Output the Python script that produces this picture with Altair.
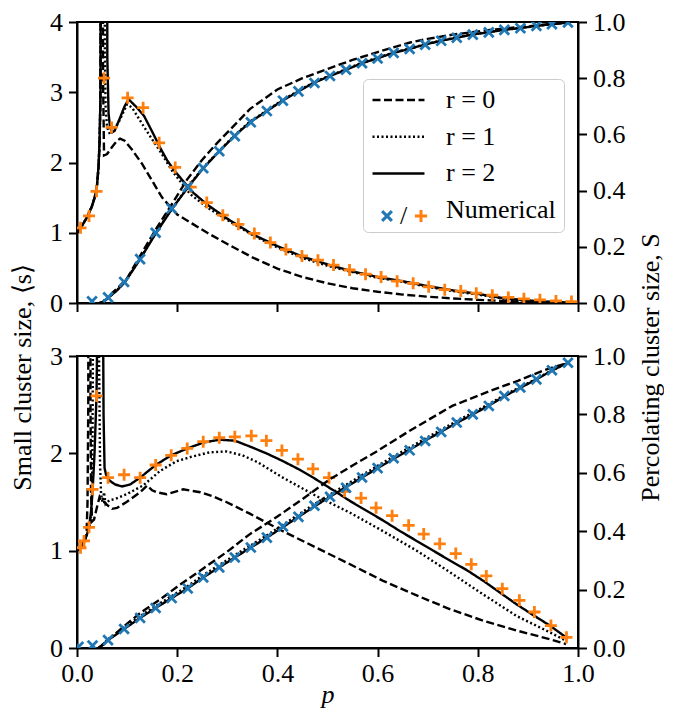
import altair as alt
import pandas as pd

FONT = "Liberation Serif"
FS = 26
BLUE = "#1f77b4"
ORANGE = "#ff7f0e"

# ---------------- top panel: small cluster size <s> (left axis) ----------------
top_r0_s_p = [0.0, 0.01, 0.02, 0.03, 0.036, 0.04, 0.043, 0.045, 0.0465, 0.047, 0.0495, 0.0505, 0.052, 0.054, 0.06, 0.07, 0.08, 0.086, 0.095, 0.11, 0.13, 0.15, 0.17, 0.2, 0.23, 0.26, 0.3, 0.35, 0.4, 0.45, 0.5, 0.55, 0.6, 0.65, 0.7, 0.75, 0.8, 0.85, 0.9, 0.95, 0.98]
top_r0_s = [1.0, 1.1, 1.22, 1.38, 1.52, 1.68, 1.92, 2.25, 2.8, 3.6, 12, 12, 3.2, 2.1, 2.12, 2.22, 2.31, 2.34, 2.31, 2.18, 1.98, 1.74, 1.5, 1.26, 1.13, 1.0, 0.84, 0.65, 0.49, 0.37, 0.28, 0.21, 0.16, 0.12, 0.09, 0.065, 0.045, 0.03, 0.018, 0.008, 0.003]

top_r1_s_p = [0.0, 0.01, 0.02, 0.03, 0.036, 0.04, 0.043, 0.045, 0.047, 0.0478, 0.0545, 0.0555, 0.057, 0.06, 0.066, 0.072, 0.085, 0.1, 0.11, 0.13, 0.15, 0.166, 0.19, 0.226, 0.26, 0.3, 0.35, 0.4, 0.45, 0.5, 0.55, 0.6, 0.65, 0.7, 0.75, 0.8, 0.85, 0.9, 0.95, 0.98]
top_r1_s = [1.0, 1.1, 1.22, 1.38, 1.52, 1.68, 1.95, 2.3, 3.0, 12, 12, 3.6, 2.8, 2.5, 2.4, 2.44, 2.6, 2.83, 2.78, 2.55, 2.33, 2.16, 1.88, 1.55, 1.36, 1.18, 0.97, 0.79, 0.64, 0.53, 0.44, 0.36, 0.3, 0.23, 0.17, 0.12, 0.065, 0.03, 0.012, 0.005]

top_r2_s_p = [0.0, 0.01, 0.02, 0.03, 0.036, 0.04, 0.043, 0.045, 0.047, 0.0482, 0.0595, 0.0605, 0.063, 0.066, 0.07, 0.075, 0.085, 0.095, 0.103, 0.11, 0.12, 0.134, 0.15, 0.166, 0.18, 0.196, 0.215, 0.232, 0.26, 0.3, 0.35, 0.4, 0.45, 0.5, 0.55, 0.6, 0.65, 0.7, 0.75, 0.8, 0.85, 0.9, 0.95, 0.98]
top_r2_s = [1.0, 1.1, 1.22, 1.38, 1.52, 1.68, 1.95, 2.3, 3.0, 12, 12, 3.5, 2.7, 2.5, 2.43, 2.45, 2.62, 2.8, 2.9, 2.85, 2.78, 2.66, 2.44, 2.21, 2.03, 1.87, 1.71, 1.57, 1.4, 1.2, 0.98, 0.81, 0.66, 0.55, 0.45, 0.37, 0.31, 0.24, 0.18, 0.13, 0.07, 0.035, 0.015, 0.006]

# top panel: percolating cluster size S (right axis)
top_r0_S_p = [0.05, 0.06, 0.07, 0.085, 0.1, 0.13, 0.16, 0.192, 0.22, 0.25, 0.28, 0.31, 0.345, 0.4, 0.45, 0.505, 0.55, 0.6, 0.665, 0.7, 0.75, 0.824, 0.9, 0.98]
top_r0_S = [0.0, 0.015, 0.035, 0.06, 0.088, 0.18, 0.27, 0.359, 0.44, 0.51, 0.57, 0.625, 0.69, 0.76, 0.8, 0.836, 0.865, 0.893, 0.927, 0.94, 0.955, 0.972, 0.985, 0.998]

top_r12_S_p = [0.045, 0.05, 0.06, 0.07, 0.08, 0.096, 0.126, 0.158, 0.19, 0.222, 0.252, 0.284, 0.314, 0.345, 0.379, 0.41, 0.442, 0.472, 0.505, 0.537, 0.568, 0.599, 0.631, 0.663, 0.693, 0.726, 0.758, 0.788, 0.82, 0.852, 0.884, 0.916, 0.947, 0.98]
top_r1_S = [0.0, 0.003, 0.016, 0.031, 0.046, 0.077, 0.158, 0.252, 0.338, 0.415, 0.482, 0.542, 0.596, 0.645, 0.685, 0.722, 0.755, 0.785, 0.81, 0.832, 0.855, 0.872, 0.891, 0.905, 0.92, 0.934, 0.945, 0.956, 0.964, 0.973, 0.979, 0.986, 0.992, 0.998]
top_r2_S = [0.0, 0.003, 0.015, 0.03, 0.045, 0.075, 0.156, 0.25, 0.336, 0.413, 0.48, 0.54, 0.594, 0.643, 0.683, 0.72, 0.753, 0.783, 0.808, 0.83, 0.853, 0.87, 0.89, 0.904, 0.919, 0.933, 0.944, 0.955, 0.963, 0.972, 0.978, 0.986, 0.992, 0.998]

# top panel numerical points
top_num_S_p = [0.03, 0.062, 0.094, 0.126, 0.157, 0.189, 0.221, 0.252, 0.284, 0.315, 0.347, 0.379, 0.411, 0.442, 0.474, 0.505, 0.537, 0.569, 0.6, 0.632, 0.664, 0.695, 0.727, 0.758, 0.79, 0.822, 0.853, 0.885, 0.917, 0.948, 0.98]
top_num_S = [0.006, 0.02, 0.075, 0.156, 0.25, 0.336, 0.413, 0.48, 0.54, 0.594, 0.643, 0.683, 0.72, 0.753, 0.783, 0.808, 0.83, 0.853, 0.87, 0.89, 0.904, 0.919, 0.933, 0.944, 0.955, 0.963, 0.972, 0.978, 0.986, 0.992, 0.998]
top_num_s_p = [0.007, 0.024, 0.039, 0.054, 0.069, 0.101, 0.132, 0.164, 0.196, 0.227, 0.259, 0.291, 0.322, 0.354, 0.386, 0.417, 0.449, 0.481, 0.512, 0.544, 0.576, 0.607, 0.639, 0.671, 0.702, 0.734, 0.766, 0.797, 0.829, 0.861, 0.892, 0.924, 0.956, 0.987]
top_num_s = [1.07, 1.24, 1.59, 3.2, 2.5, 2.92, 2.78, 2.28, 1.93, 1.65, 1.43, 1.25, 1.12, 0.99, 0.86, 0.76, 0.67, 0.61, 0.54, 0.47, 0.41, 0.37, 0.31, 0.28, 0.23, 0.19, 0.17, 0.14, 0.11, 0.08, 0.06, 0.045, 0.03, 0.02]

# ---------------- bottom panel ----------------
bot_r0_s_p = [0.0, 0.01, 0.016, 0.019, 0.021, 0.0225, 0.0235, 0.026, 0.027, 0.028, 0.03, 0.034, 0.04, 0.045, 0.05, 0.055, 0.06, 0.07, 0.08, 0.099, 0.126, 0.14, 0.15, 0.159, 0.179, 0.212, 0.246, 0.27, 0.298, 0.345, 0.411, 0.478, 0.545, 0.611, 0.678, 0.744, 0.811, 0.877, 0.944, 0.976]
bot_r0_s = [1.0, 1.05, 1.1, 1.16, 1.5, 2.5, 10, 10, 2.5, 1.6, 1.3, 1.32, 1.45, 1.55, 1.5, 1.5, 1.47, 1.43, 1.44, 1.5, 1.6, 1.67, 1.62, 1.6, 1.58, 1.63, 1.6, 1.56, 1.5, 1.38, 1.2, 1.03, 0.86, 0.69, 0.54, 0.4, 0.28, 0.18, 0.09, 0.04]

bot_r1_s_p = [0.0, 0.01, 0.016, 0.02, 0.025, 0.028, 0.03, 0.031, 0.032, 0.033, 0.043, 0.044, 0.046, 0.048, 0.051, 0.054, 0.057, 0.065, 0.076, 0.099, 0.132, 0.166, 0.199, 0.232, 0.265, 0.298, 0.33, 0.36, 0.411, 0.478, 0.545, 0.611, 0.678, 0.744, 0.811, 0.877, 0.944, 0.976]
bot_r1_s = [1.0, 1.05, 1.12, 1.17, 1.24, 1.35, 1.6, 2.2, 3.3, 10, 10, 3.0, 1.9, 1.58, 1.5, 1.6, 1.48, 1.52, 1.53, 1.58, 1.67, 1.82, 1.92, 1.97, 2.01, 2.02, 1.98, 1.91, 1.75, 1.56, 1.39, 1.2, 1.0, 0.78, 0.55, 0.33, 0.16, 0.075]

bot_r2_s_p = [0.0, 0.01, 0.016, 0.02, 0.024, 0.028, 0.031, 0.035, 0.039, 0.041, 0.042, 0.051, 0.052, 0.053, 0.055, 0.058, 0.065, 0.076, 0.09, 0.106, 0.126, 0.157, 0.188, 0.22, 0.252, 0.284, 0.315, 0.345, 0.378, 0.411, 0.445, 0.478, 0.518, 0.545, 0.578, 0.611, 0.645, 0.678, 0.711, 0.744, 0.778, 0.811, 0.844, 0.877, 0.91, 0.944, 0.976]
bot_r2_s = [1.0, 1.05, 1.12, 1.17, 1.24, 1.4, 1.6, 2.0, 2.6, 3.5, 10, 10, 3.4, 2.4, 1.85, 1.78, 1.72, 1.68, 1.66, 1.68, 1.75, 1.88, 1.98, 2.05, 2.11, 2.14, 2.13, 2.07, 2.0, 1.92, 1.83, 1.73, 1.6, 1.51, 1.41, 1.31, 1.2, 1.1, 1.0, 0.9, 0.8, 0.69, 0.57, 0.45, 0.34, 0.23, 0.11]

bot_r0_S_p = [0.043, 0.06, 0.099, 0.13, 0.165, 0.2, 0.25, 0.3, 0.345, 0.4, 0.45, 0.505, 0.55, 0.6, 0.665, 0.7, 0.75, 0.824, 0.88, 0.93, 0.98]
bot_r0_S = [0.0, 0.025, 0.082, 0.125, 0.165, 0.21, 0.27, 0.33, 0.39, 0.45, 0.51, 0.578, 0.625, 0.675, 0.745, 0.78, 0.83, 0.88, 0.915, 0.95, 0.977]

bot_r12_S_p = [0.043, 0.05, 0.062, 0.094, 0.126, 0.157, 0.189, 0.221, 0.252, 0.284, 0.315, 0.347, 0.379, 0.411, 0.442, 0.474, 0.505, 0.537, 0.569, 0.6, 0.632, 0.664, 0.695, 0.727, 0.758, 0.79, 0.822, 0.853, 0.885, 0.917, 0.948, 0.98]
bot_r1_S = [0.0, 0.009, 0.03, 0.07, 0.109, 0.144, 0.178, 0.212, 0.25, 0.284, 0.318, 0.352, 0.386, 0.422, 0.457, 0.493, 0.526, 0.559, 0.592, 0.624, 0.656, 0.687, 0.717, 0.748, 0.777, 0.806, 0.835, 0.866, 0.894, 0.922, 0.951, 0.977]
bot_r2_S = [0.0, 0.008, 0.027, 0.065, 0.103, 0.137, 0.171, 0.204, 0.242, 0.276, 0.31, 0.344, 0.378, 0.414, 0.449, 0.485, 0.518, 0.551, 0.584, 0.616, 0.648, 0.679, 0.71, 0.741, 0.771, 0.8, 0.83, 0.862, 0.891, 0.92, 0.95, 0.977]

bot_num_S_p = [0.003, 0.031, 0.062, 0.094, 0.126, 0.157, 0.189, 0.221, 0.252, 0.284, 0.315, 0.347, 0.379, 0.411, 0.442, 0.474, 0.505, 0.537, 0.569, 0.6, 0.632, 0.664, 0.695, 0.727, 0.758, 0.79, 0.822, 0.853, 0.885, 0.917, 0.948, 0.98]
bot_num_S = [0.004, 0.008, 0.027, 0.065, 0.103, 0.137, 0.171, 0.204, 0.242, 0.276, 0.31, 0.344, 0.378, 0.416, 0.449, 0.487, 0.518, 0.549, 0.584, 0.616, 0.65, 0.677, 0.709, 0.74, 0.772, 0.8, 0.829, 0.863, 0.892, 0.92, 0.951, 0.977]
bot_num_s_p = [0.007, 0.014, 0.024, 0.031, 0.039, 0.062, 0.094, 0.126, 0.157, 0.188, 0.22, 0.252, 0.284, 0.315, 0.348, 0.378, 0.409, 0.441, 0.471, 0.503, 0.534, 0.567, 0.597, 0.629, 0.662, 0.692, 0.724, 0.756, 0.787, 0.817, 0.849, 0.883, 0.913, 0.946, 0.977]
bot_num_s = [1.03, 1.1, 1.24, 1.63, 2.59, 1.75, 1.78, 1.75, 1.88, 1.98, 2.05, 2.12, 2.16, 2.17, 2.18, 2.13, 2.03, 1.94, 1.84, 1.75, 1.61, 1.54, 1.44, 1.36, 1.26, 1.17, 1.07, 0.97, 0.86, 0.74, 0.61, 0.49, 0.37, 0.23, 0.11]

x_ticks = [0.0, 0.2, 0.4, 0.6, 0.8, 1.0]
S_ticks = [0.0, 0.2, 0.4, 0.6, 0.8, 1.0]

R_DOMAIN = ["r = 0", "r = 1", "r = 2", "Numerical"]
R_DASH = [[8, 3.5], [2, 2.5], [1, 0], [0, 1000]]
KIND_DOMAIN = ["S", "s"]
X_PATH = "M-0.8,-0.8L0.8,0.8M-0.8,0.8L0.8,-0.8"
PLUS_PATH = "M-1,0L1,0M0,-1L0,1"


def lines_df(curves):
    rows = []
    for ps, vs, lab in curves:
        assert len(ps) == len(vs), lab
        for p, v in zip(ps, vs):
            rows.append({"p": p, "v": v, "r": lab})
    return pd.DataFrame(rows)


def marks_df(ps, vs, kind):
    assert len(ps) == len(vs)
    return pd.DataFrame({"p": ps, "v": vs, "kind": kind})


def panel(s_curves, S_curves, s_mk, S_mk, smax, height, is_top):
    xkw = dict(values=x_ticks, format=".1f", labelFlush=False)
    if is_top:
        xkw.update(labels=False, title="")
    else:
        xkw.update(title="p", titleFontStyle="italic", titlePadding=-5, labelPadding=4)
    x = alt.X("p:Q", scale=alt.Scale(domain=[0, 1], nice=False, zero=False), axis=alt.Axis(**xkw))

    lkw = dict(orient="left", values=list(range(smax + 1)), format="d")
    rkw = dict(orient="right", values=S_ticks, format=".1f")
    if is_top:
        lkw.update(title="Small cluster size, ⟨s⟩", titleY=355, titleAlign="center",
                   titleAngle=270, titlePadding=14)
        rkw.update(title="Percolating cluster size, S", titleY=345, titleAlign="center",
                   titleAngle=270, titleBaseline="top", titlePadding=12)
    else:
        lkw.update(title="")
        rkw.update(title="")
    yL = alt.Y("v:Q", scale=alt.Scale(domain=[0, smax], nice=False), axis=alt.Axis(**lkw))
    yR = alt.Y("v:Q", scale=alt.Scale(domain=[0, 1], nice=False), axis=alt.Axis(**rkw))

    if is_top:
        leg1 = alt.Legend(orient="none", legendX=286, legendY=57, title=None,
                          symbolType="stroke", symbolSize=2700, symbolStrokeWidth=2.5,
                          symbolStrokeColor="black", clipHeight=26, rowPadding=10.7,
                          padding=8, labelFont=FONT, labelFontSize=FS, labelColor="black",
                          labelOffset=20, fillColor="white", strokeColor="#cccccc",
                          cornerRadius=5, zindex=1)
        leg2 = alt.Legend(orient="none", legendX=297, legendY=181, title=None,
                          direction="horizontal", symbolSize=150, symbolStrokeWidth=3,
                          labelExpr="datum.value == 'S' ? '/' : ''", labelFont=FONT,
                          labelFontSize=FS, labelColor="black", labelOffset=0,
                          columnPadding=-8, padding=0, zindex=2)
    else:
        leg1 = None
        leg2 = None

    def dash():
        return alt.StrokeDash("r:N", scale=alt.Scale(domain=R_DOMAIN, range=R_DASH), legend=leg1)

    def shape():
        return alt.Shape("kind:N", scale=alt.Scale(domain=KIND_DOMAIN, range=[X_PATH, PLUS_PATH]), legend=leg2)

    def color():
        return alt.Color("kind:N", scale=alt.Scale(domain=KIND_DOMAIN, range=[BLUE, ORANGE]), legend=leg2)

    line_props = dict(clip=True, color="black", strokeWidth=2.4)
    pt_props = dict(filled=False, strokeWidth=2.8, size=144, opacity=1, clip=True)

    left = alt.layer(
        alt.Chart(lines_df(s_curves)).mark_line(**line_props).encode(x=x, y=yL, strokeDash=dash()),
        alt.Chart(s_mk).mark_point(**pt_props).encode(x=x, y=yL, shape=shape(), color=color()),
    )
    right = alt.layer(
        alt.Chart(lines_df(S_curves)).mark_line(**line_props).encode(x=x, y=yR, strokeDash=dash()),
        alt.Chart(S_mk).mark_point(**pt_props).encode(x=x, y=yR, shape=shape(), color=color()),
    )
    return alt.layer(left, right).resolve_scale(y="independent").properties(width=501, height=height)


top = panel(
    [(top_r0_s_p, top_r0_s, "r = 0"), (top_r1_s_p, top_r1_s, "r = 1"), (top_r2_s_p, top_r2_s, "r = 2")],
    [(top_r0_S_p, top_r0_S, "r = 0"), (top_r12_S_p, top_r1_S, "r = 1"), (top_r12_S_p, top_r2_S, "r = 2")],
    marks_df(top_num_s_p, top_num_s, "s"), marks_df(top_num_S_p, top_num_S, "S"),
    4, 281, True)

bottom = panel(
    [(bot_r0_s_p, bot_r0_s, "r = 0"), (bot_r1_s_p, bot_r1_s, "r = 1"), (bot_r2_s_p, bot_r2_s, "r = 2")],
    [(bot_r0_S_p, bot_r0_S, "r = 0"), (bot_r12_S_p, bot_r1_S, "r = 1"), (bot_r12_S_p, bot_r2_S, "r = 2")],
    marks_df(bot_num_s_p, bot_num_s, "s"), marks_df(bot_num_S_p, bot_num_S, "S"),
    3, 292, False)

chart = alt.vconcat(top, bottom, spacing=53, bounds="flush").properties(
    padding={"left": 0, "top": 0, "right": 0, "bottom": 0}
).configure(font=FONT).configure_view(stroke="black", strokeWidth=2).configure_axis(
    labelFont=FONT, labelFontSize=FS, labelColor="black", titleFont=FONT, titleFontSize=FS,
    titleFontWeight="normal", titleColor="black", tickColor="black", tickWidth=2, tickSize=8.5,
    domainColor="black", domainWidth=2, grid=False, labelPadding=6
)

chart.save("out.html", embed_options={"renderer": "svg", "actions": False})
